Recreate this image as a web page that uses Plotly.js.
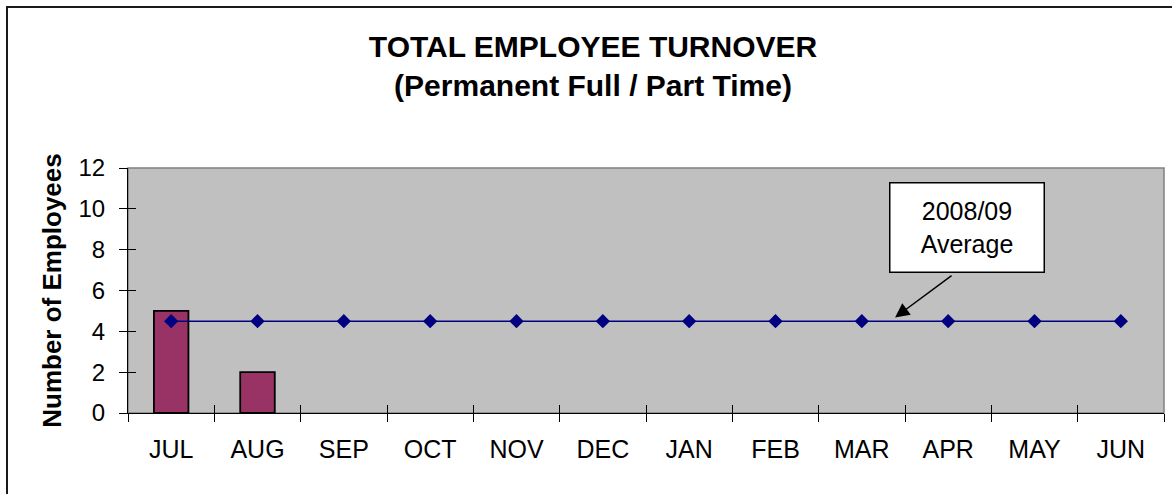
<!DOCTYPE html>
<html>
<head>
<meta charset="utf-8">
<script src="https://cdn.plot.ly/plotly-3.0.1.min.js"></script>
<style>
  html, body { margin: 0; padding: 0; background: #ffffff; }
  #wrap { position: relative; width: 1172px; height: 494px; overflow: hidden; }
  #chart { width: 1172px; height: 494px; }
  #frame { position: absolute; left: 6px; top: 6px; width: 1180px; height: 500px;
           border-left: 2px solid #1a1a1a; border-top: 2px solid #1a1a1a; pointer-events: none; }
</style>
</head>
<body>
<div id="wrap">
  <div id="chart"></div>
  <div id="frame"></div>
</div>
<script>
// ---- data ----
const months = ["JUL","AUG","SEP","OCT","NOV","DEC","JAN","FEB","MAR","APR","MAY","JUN"];
const turnover = [5, 2, null, null, null, null, null, null, null, null, null, null];
const average = [4.5, 4.5, 4.5, 4.5, 4.5, 4.5, 4.5, 4.5, 4.5, 4.5, 4.5, 4.5];
const yTicks = [0, 2, 4, 6, 8, 10, 12];
const chartTitle = "TOTAL EMPLOYEE TURNOVER<br>(Permanent Full / Part Time)";
const yTitle = "Number of Employees";
const noteText = "2008/09<br>Average";

const FONT = "Liberation Sans, Arial, Helvetica, sans-serif";

const traces = [
  {
    type: "bar",
    x: months,
    y: turnover,
    marker: { color: "#993366", line: { color: "#000000", width: 1.8 } },
    hoverinfo: "skip"
  },
  {
    type: "scatter",
    mode: "lines+markers",
    x: months,
    y: average,
    line: { color: "#000080", width: 1.5 },
    marker: { symbol: "diamond", size: 11, color: "#000080" },
    hoverinfo: "skip"
  },
  // empty helper trace so the overlay tick axes are drawn
  {
    type: "scatter", mode: "markers", x: [], y: [],
    xaxis: "x2", yaxis: "y2", hoverinfo: "skip", showlegend: false
  }
];

const layout = {
  width: 1172,
  height: 494,
  margin: { l: 128, r: 8, t: 168, b: 81, pad: 0 },
  paper_bgcolor: "#ffffff",
  plot_bgcolor: "#C0C0C0",
  showlegend: false,
  hovermode: false,
  bargap: 0.6,
  font: { family: FONT, color: "#000000" },
  title: {
    text: chartTitle,
    font: { family: FONT, size: 30, color: "#000000", weight: "bold" },
    xref: "container", x: 0.506, xanchor: "center",
    yref: "container", y: 0.884, yanchor: "middle"
  },
  xaxis: {
    type: "category",
    categoryorder: "array",
    categoryarray: months,
    range: [-0.5, 11.5],
    tickson: "boundaries",
    ticks: "outside",
    ticklen: 8,
    tickwidth: 1,
    tickcolor: "#000000",
    ticklabelstandoff: 14,
    showline: true,
    linecolor: "#000000",
    linewidth: 1,
    showgrid: false,
    zeroline: false,
    tickfont: { family: FONT, size: 25, color: "#000000" },
    fixedrange: true
  },
  xaxis2: {
    overlaying: "x",
    anchor: "y",
    range: [-0.5, 11.5],
    tick0: -0.5,
    dtick: 1,
    ticks: "inside",
    ticklen: 8,
    tickwidth: 1,
    tickcolor: "#000000",
    showticklabels: false,
    showline: false,
    showgrid: false,
    zeroline: false,
    fixedrange: true
  },
  yaxis: {
    range: [0, 12],
    tickvals: yTicks,
    ticktext: yTicks.map(String),
    ticks: "outside",
    ticklen: 8,
    tickwidth: 1,
    tickcolor: "#000000",
    ticklabelstandoff: 9,
    showline: true,
    linecolor: "#000000",
    linewidth: 1,
    showgrid: false,
    zeroline: false,
    tickfont: { family: FONT, size: 24, color: "#000000" },
    title: {
      text: yTitle,
      font: { family: FONT, size: 26, color: "#000000", weight: "bold" },
      standoff: 9
    },
    fixedrange: true
  },
  yaxis2: {
    overlaying: "y",
    anchor: "x",
    range: [0, 12],
    tickvals: yTicks,
    ticks: "inside",
    ticklen: 8,
    tickwidth: 1,
    tickcolor: "#000000",
    showticklabels: false,
    showline: false,
    showgrid: false,
    zeroline: false,
    fixedrange: true
  },
  shapes: [
    {
      type: "rect", xref: "paper", yref: "paper",
      x0: 0, x1: 1, y0: 0, y1: 1,
      line: { color: "#808080", width: 1.5 },
      layer: "below"
    }
  ],
  annotations: [
    {
      xref: "x", yref: "y",
      x: 9.22, y: 9.08,
      text: noteText,
      showarrow: false,
      font: { family: FONT, size: 25, color: "#000000" },
      align: "center",
      bgcolor: "#ffffff",
      bordercolor: "#000000",
      borderwidth: 1.5,
      borderpad: 0,
      width: 153,
      height: 88,
      valign: "middle"
    },
    {
      xref: "x", yref: "y",
      x: 8.385, y: 4.68,
      text: "",
      showarrow: true,
      ax: 58, ay: -43,
      arrowhead: 2,
      arrowsize: 1.9,
      arrowwidth: 1.5,
      arrowcolor: "#000000",
      standoff: 0
    }
  ]
};

Plotly.newPlot("chart", traces, layout, { displayModeBar: false, staticPlot: true });
</script>
</body>
</html>
